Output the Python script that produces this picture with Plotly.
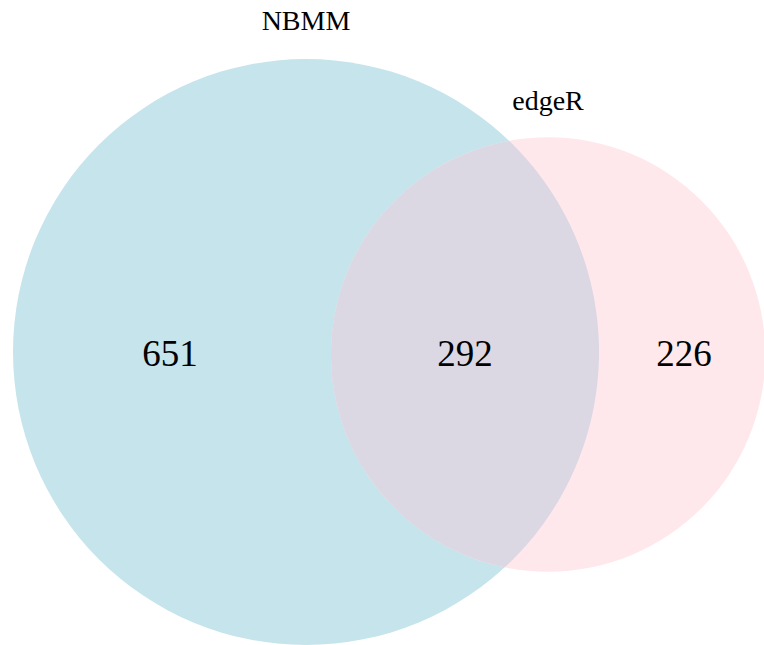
import math
import plotly.graph_objects as go

# Data
set_names = ["NBMM", "edgeR"]
region_labels = ["651", "292", "226"]
region_counts = [651, 292, 226]

set_sizes = [region_counts[0] + region_counts[1], region_counts[1] + region_counts[2]]

# Layout geometry (pixel-like data coordinates)
scale = 293 / math.sqrt(set_sizes[0])
radii = [scale * math.sqrt(s) for s in set_sizes]
centers = [(306, 352), (331 + radii[1], 354.5)]
fills = ["rgb(198,228,236)", "rgb(255,232,236)"]
overlap_fill = "rgb(219,216,228)"

shapes = []
for (cx, cy), r, col in zip(centers, radii, fills):
    shapes.append(dict(type="circle", xref="x", yref="y",
                       x0=cx - r, x1=cx + r, y0=cy - r, y1=cy + r,
                       fillcolor=col, line=dict(width=0), layer="below"))

# Lens (overlap) polygon from the two circles
pts = []
n = 1440
for i, ((cx, cy), r) in enumerate(zip(centers, radii)):
    ox, oy = centers[1 - i]
    orad = radii[1 - i]
    for k in range(n):
        t = 2 * math.pi * k / n
        px, py = cx + r * math.cos(t), cy + r * math.sin(t)
        if math.hypot(px - ox, py - oy) <= orad:
            pts.append((px, py))
mx = sum(p[0] for p in pts) / len(pts)
my = sum(p[1] for p in pts) / len(pts)
pts.sort(key=lambda p: math.atan2(p[1] - my, p[0] - mx))
path = "M " + " L ".join(f"{x:.2f},{y:.2f}" for x, y in pts) + " Z"
shapes.append(dict(type="path", xref="x", yref="y", path=path,
                   fillcolor=overlap_fill, line=dict(width=0), layer="below"))

fig = go.Figure()

count_x = [170, 465, 684]
count_y = [357, 357, 357]
fig.add_trace(go.Scatter(x=count_x, y=count_y, mode="text", text=region_labels,
                         textfont=dict(family="Liberation Serif, Times New Roman, serif",
                                       size=37, color="black"),
                         hoverinfo="skip", showlegend=False))

label_x = [306, 548]
label_y = [23, 103]
fig.add_trace(go.Scatter(x=label_x, y=label_y, mode="text", text=set_names,
                         textfont=dict(family="Liberation Serif, Times New Roman, serif",
                                       size=28, color="black"),
                         hoverinfo="skip", showlegend=False))

fig.update_layout(
    width=764, height=645,
    margin=dict(l=0, r=0, t=0, b=0),
    paper_bgcolor="white", plot_bgcolor="white",
    shapes=shapes,
    xaxis=dict(range=[0, 764], visible=False, fixedrange=True),
    yaxis=dict(range=[645, 0], visible=False, fixedrange=True),
    showlegend=False,
)

fig.write_html("out.html", config={"displayModeBar": False},
               post_script="document.body.style.margin='0';document.body.style.overflow='hidden';")
